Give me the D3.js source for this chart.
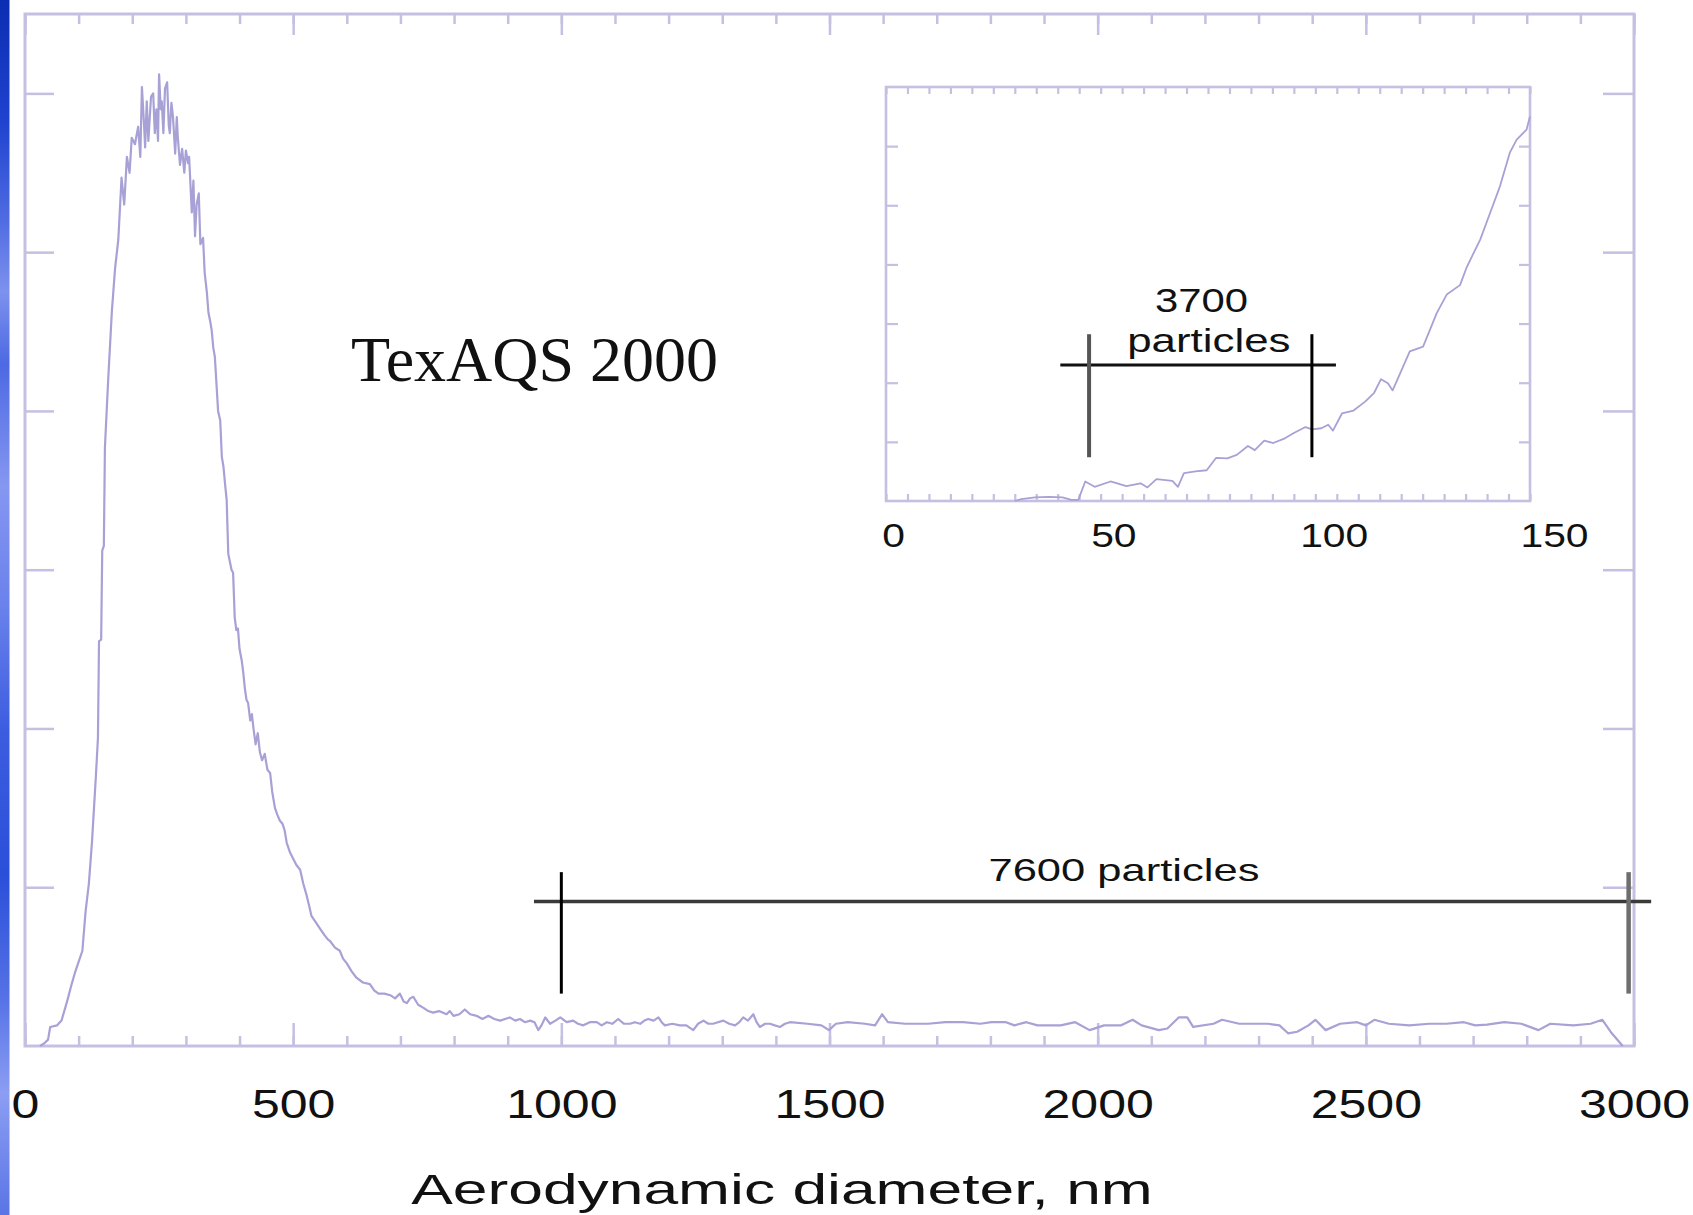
<!DOCTYPE html>
<html><head><meta charset="utf-8">
<script src="https://cdn.jsdelivr.net/npm/d3@7"></script>
<style>
html,body{margin:0;padding:0;background:#fff;}
svg{display:block;}
text{font-family:"Liberation Sans",Arial,sans-serif;fill:#111;}
</style></head><body>
<svg id="c" width="1693" height="1215"></svg>
<script>
// ---------- DATA ----------
const mainDiameter = [28,37,43,47,60,68,75,80,87,93,99,107,113,119,125,132,136,138,142,144,147,149,155,162,168,174,180,185,190,195,199,205,211,215,218,222,224,227,230,235,239,242,245,248,250,253,255,258,261,265,268,270,273,276,280,283,285,289,293,297,300,304,306,309,311,314,317,320,324,327,332,335,339,342,345,348,351,354,357,360,364,367,370,373,376,379,382,385,388,391,394,397,400,404,407,410,413,416,420,423,426,430,434,438,442,447,452,457,461,466,470,475,480,484,488,494,500,506,513,519,525,530,534,542,550,558,565,569,578,587,593,600,609,618,630,643,651,659,670,681,690,699,706,712,718,724,733,743,752,761,772,786,792,799,810,820,830,842,853,864,875,886,895,904,914,923,932,942,950,957,963,970,979,989,998,1010,1022,1031,1041,1053,1066,1075,1085,1095,1106,1117,1128,1137,1147,1155,1162,1172,1181,1187,1193,1207,1221,1233,1246,1255,1265,1274,1283,1292,1302,1313,1324,1332,1339,1348,1358,1364,1370,1380,1389,1398,1408,1417,1426,1459,1485,1499,1512,1534,1566,1585,1598,1609,1641,1684,1716,1749,1781,1802,1829,1845,1867,1888,1931,1958,1985,2012,2044,2065,2082,2114,2130,2151,2167,2178,2216,2232,2264,2318,2339,2355,2372,2393,2406,2425,2452,2484,2500,2516,2543,2581,2618,2650,2683,2704,2726,2758,2790,2822,2844,2887,2919,2941,2957,2979];
const mainCount = [0,0.02,0.04,0.12,0.13,0.16,0.24,0.30,0.39,0.46,0.52,0.60,0.85,1.02,1.29,1.69,1.94,2.55,2.56,3.12,3.15,3.77,4.19,4.63,4.90,5.08,5.47,5.30,5.60,5.50,5.72,5.68,5.79,5.60,6.04,5.80,5.66,5.95,5.70,5.98,6.00,5.75,5.90,5.70,6.12,5.90,5.95,5.75,6.03,6.07,5.80,5.75,5.94,5.85,5.62,5.85,5.72,5.55,5.65,5.50,5.64,5.56,5.60,5.39,5.25,5.45,5.10,5.30,5.37,5.05,5.09,4.87,4.75,4.62,4.57,4.51,4.40,4.34,4.17,4.00,3.94,3.71,3.65,3.54,3.44,3.10,3.05,3.00,2.98,2.70,2.62,2.63,2.50,2.43,2.35,2.25,2.18,2.16,2.05,2.09,2.00,1.90,1.97,1.85,1.80,1.84,1.74,1.72,1.60,1.50,1.46,1.42,1.40,1.36,1.28,1.22,1.18,1.14,1.11,1.02,0.95,0.88,0.82,0.78,0.74,0.70,0.67,0.66,0.62,0.60,0.55,0.52,0.47,0.43,0.40,0.39,0.35,0.33,0.33,0.32,0.30,0.33,0.28,0.27,0.30,0.31,0.26,0.24,0.22,0.21,0.22,0.20,0.22,0.19,0.20,0.23,0.20,0.19,0.17,0.19,0.17,0.16,0.17,0.18,0.16,0.17,0.15,0.16,0.15,0.10,0.13,0.18,0.14,0.16,0.18,0.15,0.16,0.14,0.13,0.15,0.15,0.13,0.15,0.14,0.17,0.14,0.14,0.15,0.14,0.16,0.17,0.16,0.18,0.15,0.13,0.14,0.13,0.13,0.10,0.14,0.16,0.14,0.14,0.15,0.16,0.14,0.13,0.15,0.18,0.16,0.20,0.15,0.12,0.14,0.14,0.13,0.12,0.14,0.15,0.14,0.13,0.10,0.14,0.15,0.14,0.13,0.20,0.15,0.14,0.14,0.15,0.15,0.14,0.15,0.15,0.13,0.15,0.13,0.13,0.15,0.10,0.13,0.13,0.165,0.13,0.10,0.11,0.18,0.18,0.12,0.14,0.165,0.14,0.14,0.13,0.08,0.09,0.13,0.165,0.10,0.14,0.15,0.13,0.165,0.14,0.13,0.14,0.14,0.15,0.13,0.135,0.15,0.14,0.10,0.14,0.13,0.14,0.165,0.087,0];

const insetDiameter = [30,31.5,34.7,37.9,41.1,43.2,44.8,46.4,48.6,52.3,56.0,59.3,60.9,63.0,66.7,68.0,69.4,72.1,74.7,76.9,79.5,81.7,84.3,85.9,88.1,90.2,92.9,95.0,97.7,99.3,101.4,103.0,104.1,106.2,108.9,111.6,113.7,115.3,116.9,118.0,119.7,122.0,125.1,128.3,130.6,133.7,135.3,138.4,140.7,143.0,145.3,146.9,149.2,150];
const insetCount = [0,0.03,0.06,0.07,0.06,0.02,0.02,0.33,0.24,0.33,0.25,0.30,0.23,0.37,0.34,0.24,0.47,0.50,0.52,0.73,0.72,0.78,0.93,0.86,1.02,0.98,1.06,1.15,1.25,1.21,1.23,1.29,1.19,1.48,1.53,1.68,1.83,2.06,1.99,1.87,2.15,2.53,2.61,3.18,3.49,3.65,3.96,4.42,4.87,5.32,5.89,6.11,6.28,6.5];

const mainTickLabels = [0,500,1000,1500,2000,2500,3000];
const insetTickLabels = [0,50,100,150];
const titleText = "TexAQS 2000";
const xAxisTitle = "Aerodynamic diameter, nm";
const mainBracketEnds = [1000, 2990];
const mainBracketLabel = "7600 particles";
const insetBracketEnds = [47.3, 99.2];
const insetBracketLabel = ["3700", "particles"];

// ---------- DRAW ----------
const svg = d3.select("#c");
const frameCol = "#c4c0e2";
const lineCol = "#a7a1d6";

// left blue band
const defs = svg.append("defs");
const gr = defs.append("linearGradient").attr("id","band").attr("x1",0).attr("y1",0).attr("x2",0).attr("y2",1);
[[0,"#0b2db2"],[0.1,"#1f43cf"],[0.18,"#4f6be2"],[0.24,"#7d91ee"],[0.3,"#4d69e3"],[0.4,"#8697f1"],[0.5,"#6a81ec"],[0.6,"#3d5de0"],[0.72,"#2a4fd9"],[0.82,"#5571e6"],[0.9,"#8c9ef3"],[1,"#5a74e6"]]
  .forEach(([o,c])=>gr.append("stop").attr("offset",o).attr("stop-color",c));
svg.append("rect").attr("x",0).attr("y",0).attr("width",9.5).attr("height",1215).attr("fill","url(#band)");

function stretch(sel, f){
  sel.each(function(){
    const L = this.getComputedTextLength();
    this.setAttribute("textLength", L*f);
    this.setAttribute("lengthAdjust","spacingAndGlyphs");
  });
}

// ===== main plot =====
const M = {l:25, r:1634, t:14, b:1046};
const x = d3.scaleLinear().domain([0,3000]).range([M.l, M.r]);
const y = d3.scaleLinear().domain([0,6.5]).range([M.b, M.t]);

function styleAxis(g, w){
  g.select(".domain").remove();
  g.selectAll(".tick line").attr("stroke",frameCol).attr("stroke-width",w);
}
const minorX = d3.range(0,3001,100);
const majorX = mainTickLabels;

svg.append("g").attr("transform",`translate(0,${M.b})`)
  .call(d3.axisBottom(x).tickValues(minorX).tickSize(-10).tickFormat("")).call(g=>styleAxis(g,2.5));
const xb = svg.append("g").attr("transform",`translate(0,${M.b})`)
  .call(d3.axisBottom(x).tickValues(majorX).tickSize(-23).tickPadding(44).tickFormat(d3.format("d")));
styleAxis(xb,2.5);
xb.selectAll("text").attr("font-size",40).attr("fill","#111").style("font-family",'"Liberation Sans",Arial,sans-serif');
stretch(xb.selectAll("text"),1.25);

svg.append("g").attr("transform",`translate(0,${M.t})`)
  .call(d3.axisTop(x).tickValues(minorX).tickSize(-10).tickFormat("")).call(g=>styleAxis(g,2.5));
svg.append("g").attr("transform",`translate(0,${M.t})`)
  .call(d3.axisTop(x).tickValues(majorX).tickSize(-21).tickFormat("")).call(g=>styleAxis(g,2.5));

const yTicks = [1,2,3,4,5,6];
svg.append("g").attr("transform",`translate(${M.l},0)`)
  .call(d3.axisLeft(y).tickValues(yTicks).tickSize(-29).tickFormat("")).call(g=>styleAxis(g,2.5));
svg.append("g").attr("transform",`translate(${M.r},0)`)
  .call(d3.axisRight(y).tickValues(yTicks).tickSize(-31).tickFormat("")).call(g=>styleAxis(g,2.5));

svg.append("rect").attr("x",M.l).attr("y",M.t).attr("width",M.r-M.l).attr("height",M.b-M.t)
  .attr("fill","none").attr("stroke",frameCol).attr("stroke-width",3);

const mainPts = mainDiameter.map((d,i)=>[d, mainCount[i]]);
svg.append("path").datum(mainPts)
  .attr("d", d3.line().x(d=>x(d[0])).y(d=>y(d[1])))
  .attr("fill","none").attr("stroke",lineCol).attr("stroke-width",2.2).attr("stroke-linejoin","round");

// x axis title
const xt = svg.append("text").attr("x",782).attr("y",1204).attr("text-anchor","middle")
  .attr("font-size",43).text(xAxisTitle);
stretch(xt,1.45);

// title
svg.append("text").attr("x",351).attr("y",381).attr("font-size",64)
  .style("font-family",'"Liberation Serif","Times New Roman",serif').attr("fill","#000").text(titleText);

// main bracket
const hy = y(0.91);
svg.append("line").attr("x1",x(949)).attr("x2",x(3032)).attr("y1",hy).attr("y2",hy)
  .attr("stroke","#3a3a3a").attr("stroke-width",3.5);
svg.append("line").attr("x1",x(mainBracketEnds[0])).attr("x2",x(mainBracketEnds[0]))
  .attr("y1",y(1.095)).attr("y2",y(0.33)).attr("stroke","#000").attr("stroke-width",3);
svg.append("line").attr("x1",x(mainBracketEnds[1])).attr("x2",x(mainBracketEnds[1]))
  .attr("y1",y(1.095)).attr("y2",y(0.33)).attr("stroke","#6e6e6e").attr("stroke-width",4.5);
const ml = svg.append("text").attr("x",x(2049)).attr("y",y(1.04)).attr("text-anchor","middle")
  .attr("font-size",32).text(mainBracketLabel);
stretch(ml,1.36);

// ===== inset =====
const I = {l:886, r:1530, t:87, b:501};
const xi = d3.scaleLinear().domain([0,150]).range([I.l, I.r]);
const yi = d3.scaleLinear().domain([0,7]).range([I.b, I.t]);
const xiLabel = xi.copy().range([I.l+7, I.r+24]);
const insetMinor = d3.range(0,151,5);

svg.append("g").attr("transform",`translate(0,${I.b})`)
  .call(d3.axisBottom(xi).tickValues(insetMinor).tickSize(-7).tickFormat("")).call(g=>styleAxis(g,2.2));
svg.append("g").attr("transform",`translate(0,${I.t})`)
  .call(d3.axisTop(xi).tickValues(insetMinor).tickSize(-7).tickFormat("")).call(g=>styleAxis(g,2.2));
svg.append("g").attr("transform",`translate(${I.l},0)`)
  .call(d3.axisLeft(yi).tickValues(yTicks).tickSize(-12).tickFormat("")).call(g=>styleAxis(g,2.2));
svg.append("g").attr("transform",`translate(${I.r},0)`)
  .call(d3.axisRight(yi).tickValues(yTicks).tickSize(-11).tickFormat("")).call(g=>styleAxis(g,2.2));
svg.append("rect").attr("x",I.l).attr("y",I.t).attr("width",I.r-I.l).attr("height",I.b-I.t)
  .attr("fill","none").attr("stroke",frameCol).attr("stroke-width",2.6);

const xil = svg.append("g").attr("transform",`translate(0,${I.b})`)
  .call(d3.axisBottom(xiLabel).tickValues(insetTickLabels).tickSize(0).tickPadding(22).tickFormat(d3.format("d")));
xil.select(".domain").remove();
xil.selectAll("text").attr("font-size",34).attr("fill","#111").style("font-family",'"Liberation Sans",Arial,sans-serif');
stretch(xil.selectAll("text"),1.2);

const insetPts = insetDiameter.map((d,i)=>[d, insetCount[i]]);
svg.append("path").datum(insetPts)
  .attr("d", d3.line().x(d=>xi(d[0])).y(d=>yi(d[1])))
  .attr("fill","none").attr("stroke",lineCol).attr("stroke-width",1.8).attr("stroke-linejoin","round");

// inset bracket
svg.append("line").attr("x1",xi(40.6)).attr("x2",xi(104.8)).attr("y1",yi(2.3)).attr("y2",yi(2.3))
  .attr("stroke","#111").attr("stroke-width",3);
svg.append("line").attr("x1",xi(insetBracketEnds[0])).attr("x2",xi(insetBracketEnds[0]))
  .attr("y1",yi(2.82)).attr("y2",yi(0.74)).attr("stroke","#555").attr("stroke-width",4);
svg.append("line").attr("x1",xi(insetBracketEnds[1])).attr("x2",xi(insetBracketEnds[1]))
  .attr("y1",yi(2.82)).attr("y2",yi(0.74)).attr("stroke","#000").attr("stroke-width",3);
const il1 = svg.append("text").attr("x",xi(73.5)).attr("y",yi(3.2)).attr("text-anchor","middle")
  .attr("font-size",34).text(insetBracketLabel[0]);
stretch(il1,1.23);
const il2 = svg.append("text").attr("x",xi(75.2)).attr("y",yi(2.52)).attr("text-anchor","middle")
  .attr("font-size",34).text(insetBracketLabel[1]);
stretch(il2,1.29);
</script>
</body></html>
